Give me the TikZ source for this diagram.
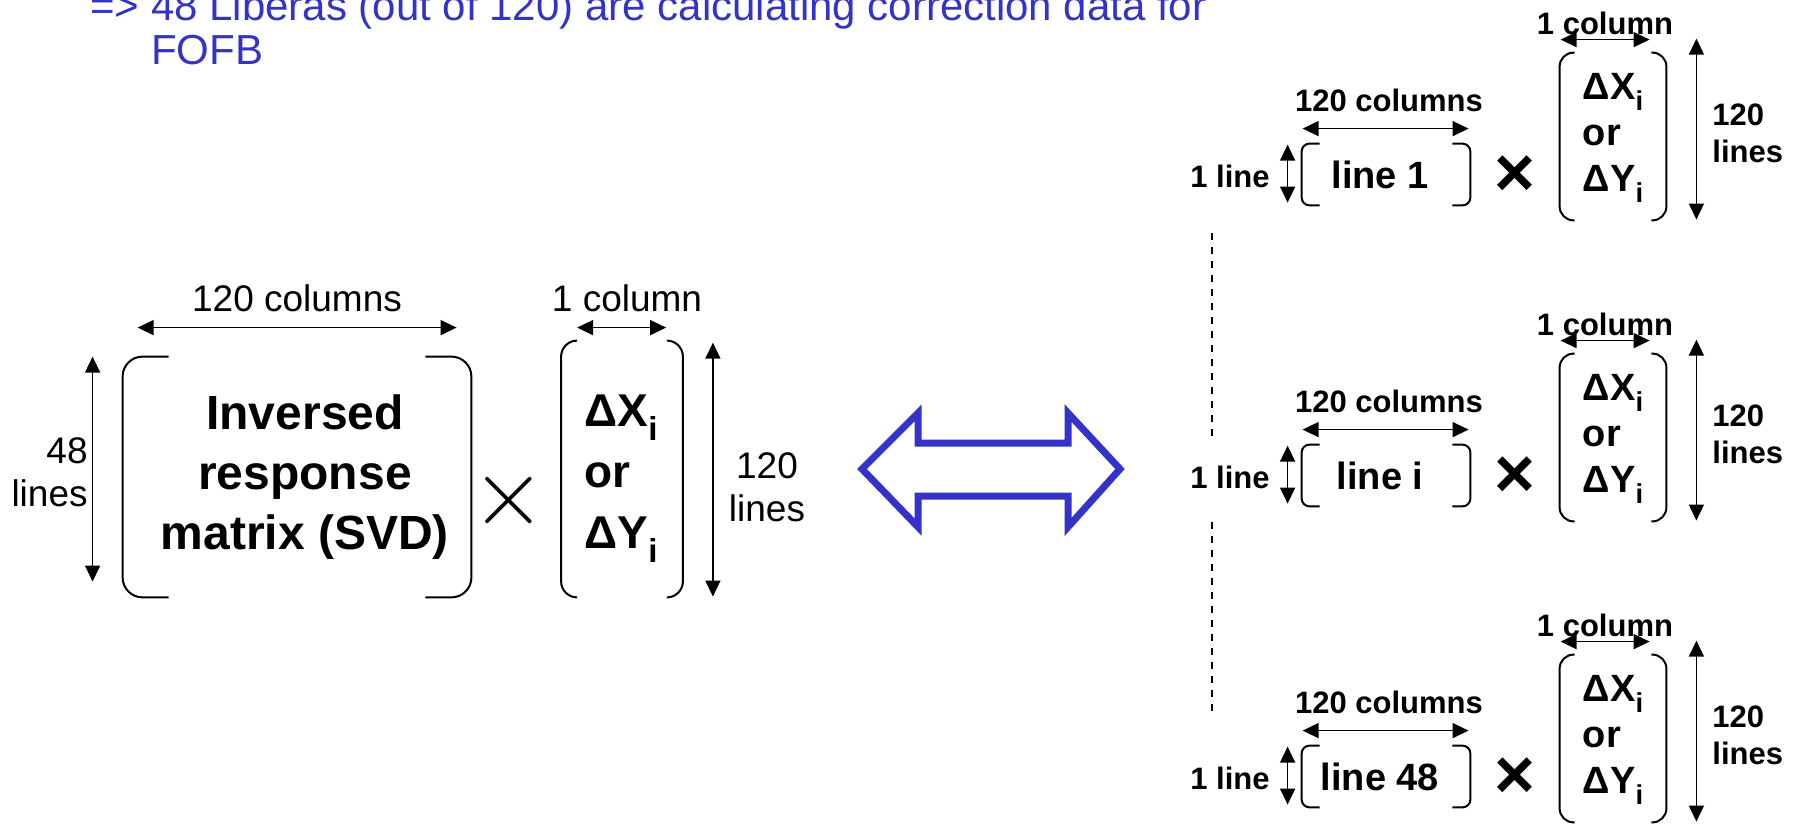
\documentclass[tikz,border=0pt]{standalone}
\usepackage{fontspec}
\setmainfont{Liberation Sans}
\usetikzlibrary{arrows.meta,calc}
\definecolor{liblue}{HTML}{3333CC}

% square brackets with soft corners round a node
\newcommand\brackets[3]{%
  \draw[brk, rounded corners=#3] ($(#1.north west)+(#2,0)$) -- (#1.north west) -- (#1.south west) -- ($(#1.south west)+(#2,0)$);
  \draw[brk, rounded corners=#3] ($(#1.north east)-(#2,0)$) -- (#1.north east) -- (#1.south east) -- ($(#1.south east)-(#2,0)$);}
% lowered index
\newcommand\idx{\raisebox{-0.3em}{\scalebox{0.72}{i}}}

\begin{document}
\begin{tikzpicture}[x=0.5pt, y=-0.5pt,
  lab/.style={font=\fontsize{18.5}{21.5}\selectfont, align=center, inner sep=0pt},
  rlab/.style={font=\bfseries\fontsize{15.5}{18.5}\selectfont, align=center, inner sep=0pt},
  mat/.style={font=\bfseries\fontsize{24}{30}\selectfont, align=center, inner sep=0pt},
  vec/.style={font=\bfseries\fontsize{23}{30.5}\selectfont, align=left, inner sep=0pt},
  rvec/.style={font=\bfseries\fontsize{19}{23}\selectfont, align=left, inner sep=0pt},
  box/.style={inner sep=0pt},
  brk/.style={line width=1pt},
  dim/.style={{Triangle[length=8pt,width=7.5pt]}-{Triangle[length=8pt,width=7.5pt]}, line width=0.75pt}]
\useasboundingbox (0,0) rectangle (1800,824);

\node[font=\fontsize{21}{22}\selectfont, text=liblue, align=left, anchor=base west, inner sep=0pt] (ttl) at (90,65) {=> 48 Liberas (out of 120) are calculating correction data for\\\phantom{=> }FOFB};

% left side: full product
\node[box, minimum width=174pt, minimum height=120pt] (inv) at (297,477) {};
\node[mat] (invt) at (305,477) {Inversed\\response\\matrix (SVD)};
\brackets{inv}{46}{10pt}
\draw[dim] ([shift={(-30,0)}]inv.north west) -- ++(0,225);
\node[lab, anchor=east, align=right] (l48) at (88,472) {48\\lines};
\draw[dim] ([shift={(15,-29)}]inv.north west) -- ++(319,0);
\node[lab] (c120) at (297,298) {120 columns};
\node (mul) at (509,500) {\scalebox{4.8}{$\times$}};
\node[box, minimum width=60.5pt, minimum height=128pt] (dxl) at (622,469) {};
\node[vec] (dxt) at (621,479) {ΔX\idx\\or\\ΔY\idx};
\brackets{dxl}{15}{8pt}
\draw[dim] ([shift={(16,-13)}]dxl.north west) -- ++(89,0);
\node[lab] (c1) at (627,298) {1 column};
\draw[dim] ([shift={(30,2)}]dxl.north east) -- ++(0,254);
\node[lab] (l120) at (767,487) {120\\lines};

% equivalence
\draw[liblue, line width=3.5pt, miter limit=10] (862,469) -- (918,413) -- (918,443) -- (1068,443) -- (1068,413) -- (1120,469) -- (1068,527) -- (1068,496) -- (918,496) -- (918,527) -- cycle;

% right side: one line per Libera
\foreach \grp/\lnum in {0/1,1/i,2/48}{
\begin{scope}[shift={(0,301*\grp)}]
  \node[rvec, align=center, minimum width=84pt, minimum height=30.5pt] (ln\grp) at (1386,174.5) {line \lnum\hspace*{6pt}};
  \brackets{ln\grp}{18}{4pt}
  \draw[dim] ([shift={(1,-15)}]ln\grp.north west) -- ++(166,0);
  \node[rlab] (rc\grp) at (1389,100) {120 columns};
  \draw[dim] ([shift={(-14,1)}]ln\grp.north west) -- ++(0,58);
  \node[rlab, anchor=east] (rl\grp) at (1270,176) {1 line};
  \node[font=\bfseries\fontsize{35}{35}\selectfont, inner sep=0pt] (rx\grp) at (1515,176) {×};
  \node[box, minimum width=53pt, minimum height=83.5pt] (dv\grp) at (1613,136.5) {};
  \node[rvec] (dvt\grp) at (1613,138) {ΔX\idx\\or\\ΔY\idx};
  \brackets{dv\grp}{15}{7pt}
  \draw[dim] ([shift={(1,-13)}]dv\grp.north west) -- ++(89,0);
  \node[rlab] (rcol\grp) at (1605,23) {1 column};
  \draw[dim] ([shift={(30,-14)}]dv\grp.north east) -- ++(0,181);
  \node[rlab, anchor=west, align=left] (rlin\grp) at (1712,133) {120\\lines};
\end{scope}
}
\draw[dash pattern=on 3.5pt off 3.5pt, line width=0.6pt] (1212,233) -- (1212,440) (1212,522) -- (1212,718);
\end{tikzpicture}
\end{document}
